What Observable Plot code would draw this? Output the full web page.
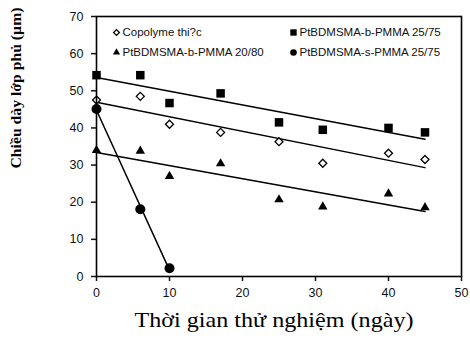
<!DOCTYPE html>
<html>
<head>
<meta charset="utf-8">
<script src="https://cdn.jsdelivr.net/npm/d3@7"></script>
<script src="https://cdn.jsdelivr.net/npm/@observablehq/plot@0.6"></script>
<style>
  html, body { margin: 0; padding: 0; background: #fff; }
  #chart svg { display: block; }
</style>
</head>
<body>
<div id="chart"></div>
<script>
// ---- data ----
const days = [0, 6, 10, 17, 25, 31, 40, 45];
const copolyme = [47.5, 48.5, 41, 38.8, 36.3, 30.5, 33.2, 31.5];
const b2575 = [54.2, 54.2, 46.7, 49.3, 41.5, 39.5, 40, 38.8];
const b2080 = [34, 33.8, 27, 30.4, 20.7, 18.8, 22.3, 18.6];
const sDays = [0, 6, 10];
const s2575 = [45.1, 18.1, 2.2];

const seriesNames = ["Copolyme thi?c", "PtBDMSMA-b-PMMA 25/75", "PtBDMSMA-b-PMMA 20/80", "PtBDMSMA-s-PMMA 25/75"];
const xTicks = [0, 10, 20, 30, 40, 50];
const yTicks = [0, 10, 20, 30, 40, 50, 60, 70];
const xLabel = "Thời gian thử nghiệm (ngày)";
const yLabel = "Chiều dày lớp phủ (µm)";

// ---- build tables ----
const series = [
  {name: seriesNames[0], xs: days, ys: copolyme, symbol: "diamond2", fill: "white", r: 3.6, lr: 2.6, strokeWidth: 1.3},
  {name: seriesNames[1], xs: days, ys: b2575, symbol: "square", fill: "black", r: 4.8, lr: 3.6, strokeWidth: 0},
  {name: seriesNames[2], xs: days, ys: b2080, symbol: "triangle", fill: "black", r: 3.5, lr: 2.7, strokeWidth: 0},
  {name: seriesNames[3], xs: sDays, ys: s2575, symbol: "circle", fill: "black", r: 5, lr: 3.3, strokeWidth: 0}
];
const tables = series.map(s => s.xs.map((x, i) => ({x, y: s.ys[i], name: s.name})));

// legend layout (two columns, two rows)
const legendPos = [[20, 16], [197, 16], [20, 36], [197, 36]];

const marks = [];
// regression lines
tables.forEach(t => marks.push(Plot.linearRegressionY(t, {x: "x", y: "y", stroke: "black", strokeWidth: 1.5, ci: 0})));
// points
series.forEach((s, k) => marks.push(Plot.dot(tables[k], {
  x: "x", y: "y", symbol: () => s.symbol, r: s.r,
  fill: s.fill, stroke: "black", strokeWidth: s.strokeWidth
})));
// legend
series.forEach((s, k) => {
  const [dx, dy] = legendPos[k];
  marks.push(Plot.dot([s.name], {frameAnchor: "top-left", dx, dy, symbol: () => s.symbol, r: s.lr, fill: s.fill, stroke: "black", strokeWidth: s.strokeWidth}));
  marks.push(Plot.text([s.name], {text: d => d, frameAnchor: "top-left", dx: dx + 6, dy, textAnchor: "start", lineAnchor: "middle", fontSize: 11.5, fill: "#111"}));
});
// frame and axes
marks.push(Plot.frame({stroke: "black", strokeWidth: 1.6}));
marks.push(Plot.axisY(yTicks, {tickSize: 5, tickPadding: 8, strokeWidth: 1.5, fontSize: 12.5, label: null}));
marks.push(Plot.axisX(xTicks, {tickSize: 5, tickPadding: 7, strokeWidth: 1.5, fontSize: 12.5, label: null}));
// axis titles
marks.push(Plot.text([xLabel], {text: d => d, frameAnchor: "bottom", dx: -5, dy: 50, fontSize: 21, fontFamily: "Liberation Serif, Times New Roman, serif", fill: "black"}));
marks.push(Plot.text([yLabel], {text: d => d, frameAnchor: "left", rotate: -90, dx: -80, dy: 22, fontSize: 14, fontWeight: "bold", fontFamily: "Liberation Serif, Times New Roman, serif", fill: "black"}));

const chart = Plot.plot({
  width: 470,
  height: 338,
  marginLeft: 96,
  marginRight: 9,
  marginTop: 16,
  marginBottom: 62,
  style: {fontFamily: "Liberation Sans, Arial, sans-serif", color: "#111", background: "white"},
  x: {domain: [0, 50]},
  y: {domain: [0, 70]},
  marks
});
// stretch the axis titles horizontally like the original
d3.select(chart).selectAll("text")
  .filter(function() { return this.textContent === xLabel; })
  .attr("textLength", 279).attr("lengthAdjust", "spacingAndGlyphs");
d3.select(chart).selectAll("text")
  .filter(function() { return this.textContent === yLabel; })
  .attr("textLength", 161).attr("lengthAdjust", "spacingAndGlyphs");
document.getElementById("chart").appendChild(chart);
</script>
</body>
</html>
